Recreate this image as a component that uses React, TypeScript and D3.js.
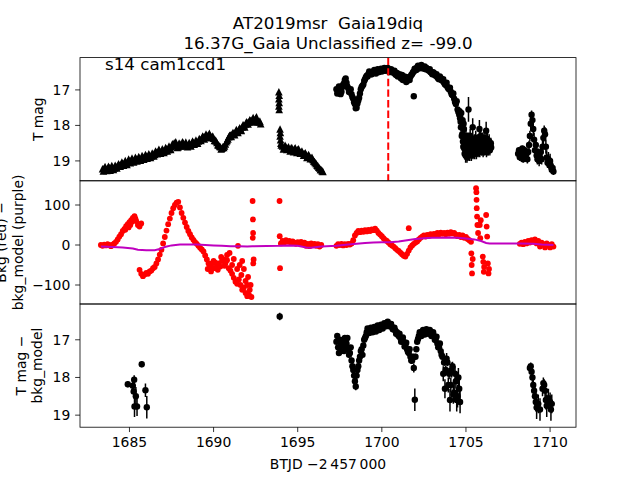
import React from 'react';
import * as d3 from 'd3';

// ---------- text ----------
const TITLE_1 = 'AT2019msr  Gaia19diq';
const TITLE_2 = '16.37G_Gaia Unclassified z= -99.0';
const CAMERA_LABEL = 's14 cam1ccd1';
const X_LABEL = 'BTJD \u22122\u2009457\u2009000';
const X_TICKS = [1685, 1690, 1695, 1700, 1705, 1710];
const MAG_TICKS = [17, 18, 19];
const BKG_TICKS = [100, 0, -100];
const PEAK_TIME = 1700.38;
const CADENCE = 0.1;
const BRIGHT_ERR = 0.03;

// ---------- panel 1: T mag ----------
// triangles (regular cadence segments)
const TRI_A_START = 1683.4;
const triA = [19.22, 19.2, 19.23, 19.21, 19.19, 19.22, 19.18, 19.2, 19.16, 19.14,
  19.12, 19.09, 19.07, 19.05, 19.06, 19.02, 19.0, 18.98, 18.97, 18.99,
  18.94, 18.96, 18.92, 18.94, 18.89, 18.91, 18.86, 18.88, 18.84, 18.86,
  18.8, 18.82, 18.76, 18.74, 18.72, 18.74, 18.7, 18.72, 18.66, 18.68,
  18.64, 18.6, 18.55, 18.5, 18.56, 18.6, 18.52, 18.54, 18.5, 18.53,
  18.56, 18.54, 18.55, 18.5, 18.48, 18.5, 18.46, 18.44, 18.4, 18.36,
  18.33, 18.3, 18.28, 18.27, 18.29, 18.32, 18.36, 18.41, 18.48, 18.55,
  18.6, 18.64, 18.62, 18.52, 18.42, 18.32, 18.27, 18.24, 18.22, 18.18,
  18.16, 18.12, 18.1, 18.04, 18.0, 17.96, 17.92, 17.9, 17.86, 17.83,
  17.84, 17.8, 17.86, 17.9, 17.95];
const TRI_A2_START = 1683.45;
const triA2 = [19.28, 19.16, 19.27, 19.15, 19.26, 19.13, 19.24, 19.12, 19.2, 19.08,
  19.15, 19.03, 19.12, 18.99, 19.1, 18.95, 19.05, 18.92, 19.03, 18.9,
  19.0, 18.88, 18.98, 18.85, 18.95, 18.82, 18.92, 18.8, 18.9, 18.78,
  18.86, 18.72, 18.8, 18.67, 18.78, 18.66, 18.76, 18.62, 18.72, 18.58,
  18.68, 18.52, 18.5, 18.46, 18.62, 18.5, 18.58, 18.46, 18.58, 18.47,
  18.6, 18.48, 18.58, 18.44, 18.53, 18.41, 18.5, 18.37, 18.42, 18.3,
  18.38, 18.24, 18.34, 18.22, 18.34, 18.3, 18.42, 18.44, 18.54, 18.58,
  18.66, 18.6, 18.58, 18.46, 18.38, 18.28, 18.31, 18.2, 18.26, 18.12,
  18.2, 18.07, 18.14, 17.98, 18.04, 17.9, 17.96, 17.84, 17.9, 17.78,
  17.88, 17.76, 17.9, 17.88];
const triCluster = [[1693.88, 17.05], [1693.9, 17.15], [1693.88, 17.25], [1693.9, 17.35],
  [1693.88, 17.45], [1693.9, 17.55], [1693.95, 18.1], [1693.97, 18.2], [1693.95, 18.3],
  [1693.98, 18.4], [1694.0, 18.5], [1694.02, 18.55]];
const TRI_B_START = 1694.1;
const triB = [18.58, 18.62, 18.6, 18.65, 18.67, 18.64, 18.69, 18.66, 18.7, 18.68,
  18.72, 18.74, 18.78, 18.8, 18.83, 18.86, 18.88, 18.92, 18.96, 19.02,
  19.08, 19.14, 19.2, 19.25, 19.3];
const TRI_B2_START = 1694.15;
const triB2 = [18.66, 18.56, 18.68, 18.6, 18.72, 18.62, 18.74, 18.63, 18.76, 18.66,
  18.78, 18.72, 18.84, 18.77, 18.9, 18.82, 18.94, 18.9, 19.0, 19.05,
  19.12, 19.18, 19.24, 19.28];

// circles with error bars
const CIRC_A_START = 1697.3;
const circA = [16.98, 17.08, 16.92, 17.05, 16.85, 16.72, 16.8, 16.95, 17.02, 17.12,
  17.25, 17.4, 17.5, 17.3, 17.1, 16.92, 16.85, 16.7, 16.6, 16.55,
  16.5, 16.56, 16.48, 16.52, 16.46, 16.5, 16.44, 16.48, 16.42, 16.46,
  16.4, 16.44, 16.48, 16.45, 16.52, 16.56, 16.52, 16.6, 16.65, 16.58,
  16.7, 16.66, 16.74, 16.68, 16.62, 16.55, 16.48, 16.42, 16.36, 16.4,
  16.33, 16.38, 16.36, 16.42, 16.4, 16.46, 16.5, 16.56, 16.52, 16.6,
  16.64, 16.7, 16.66, 16.74, 16.8, 16.86, 16.92, 16.98, 17.05, 17.15,
  17.25, 17.4, 17.55, 17.7];
const CIRC_A2_START = 1697.35;
const circA2 = [17.1, 16.9, 17.12, 16.92, 16.82, 16.68, 16.9,
  17.06, 16.98, 17.2, 17.35, 17.52, 17.38, 17.22, 16.98, 16.88, 16.75,
  16.64, 16.62, 16.48, 16.56, 16.5, 16.44, 16.54, 16.42, 16.48, 16.4,
  16.46, 16.38, 16.44, 16.38, 16.5, 16.42, 16.5, 16.46, 16.58, 16.62,
  16.56, 16.68, 16.72, 16.62, 16.78, 16.64, 16.72, 16.58, 16.5, 16.4,
  16.44, 16.32, 16.36, 16.3, 16.4, 16.34, 16.38, 16.44, 16.42, 16.52,
  16.5, 16.58, 16.56, 16.68, 16.62, 16.72, 16.7, 16.84, 16.8, 16.96,
  16.94, 17.12, 17.1, 17.34, 17.32, 17.62];
const circExtra = [[1701.9, 17.18, 0.05]];
const circFaint = [[1704.65, 17.8, 0.1], [1704.7, 18.05, 0.12], [1704.72, 17.65, 0.1], [1704.78, 18.25, 0.15],
  [1704.82, 18.45, 0.15], [1704.86, 17.95, 0.15], [1704.9, 18.65, 0.2], [1704.94, 18.35, 0.15],
  [1704.98, 18.85, 0.2], [1705.02, 18.55, 0.2], [1705.06, 18.9, 0.15], [1705.1, 18.4, 0.2],
  [1705.15, 17.55, 0.35], [1705.2, 18.6, 0.2], [1705.25, 18.3, 0.2], [1705.3, 18.7, 0.2],
  [1705.35, 18.5, 0.2], [1705.4, 18.05, 0.25], [1705.45, 18.6, 0.2], [1705.5, 18.45, 0.2],
  [1705.55, 18.65, 0.2], [1705.6, 18.5, 0.2], [1705.65, 18.7, 0.15], [1705.7, 18.55, 0.2],
  [1705.75, 18.65, 0.2], [1705.8, 18.1, 0.25], [1705.85, 18.6, 0.2], [1705.9, 18.45, 0.2],
  [1705.95, 18.65, 0.2], [1706.0, 18.55, 0.2], [1706.05, 18.7, 0.15], [1706.1, 18.5, 0.2],
  [1706.15, 18.6, 0.2], [1706.2, 18.15, 0.25], [1706.25, 18.55, 0.2], [1706.3, 18.65, 0.2],
  [1706.35, 18.5, 0.2], [1706.4, 18.6, 0.2], [1706.45, 18.55, 0.15], [1706.5, 18.62, 0.15],
  [1704.62, 17.6, 0.08], [1704.68, 17.9, 0.1], [1704.75, 18.3, 0.12], [1704.8, 17.85, 0.12],
  [1704.84, 18.6, 0.15], [1704.88, 18.1, 0.15], [1704.92, 18.8, 0.15], [1704.96, 18.5, 0.15],
  [1705.0, 18.3, 0.2], [1705.04, 18.75, 0.2], [1705.08, 18.55, 0.2], [1705.12, 18.85, 0.15],
  [1705.18, 18.4, 0.2], [1705.22, 18.8, 0.2], [1705.28, 18.55, 0.2], [1705.32, 18.85, 0.15],
  [1705.38, 18.4, 0.2], [1705.42, 18.75, 0.2], [1705.48, 18.6, 0.2], [1705.52, 18.8, 0.15],
  [1705.58, 18.35, 0.2], [1705.62, 18.8, 0.15], [1705.68, 18.45, 0.2], [1705.72, 18.75, 0.15],
  [1705.78, 18.5, 0.2], [1705.82, 18.75, 0.15], [1705.88, 18.3, 0.2], [1705.92, 18.7, 0.15],
  [1705.98, 18.4, 0.2], [1706.02, 18.75, 0.15], [1706.08, 18.35, 0.2], [1706.12, 18.7, 0.15],
  [1706.18, 18.45, 0.2], [1706.22, 18.75, 0.15], [1706.28, 18.4, 0.2], [1706.32, 18.7, 0.15],
  [1706.38, 18.45, 0.2], [1706.42, 18.7, 0.15], [1706.48, 18.5, 0.15]];
const circC = [[1708.1, 18.8, 0.08], [1708.15, 18.7, 0.08], [1708.2, 18.9, 0.1], [1708.25, 18.75, 0.08],
  [1708.3, 18.85, 0.1], [1708.35, 18.65, 0.08], [1708.4, 18.95, 0.1], [1708.45, 18.8, 0.1],
  [1708.5, 18.7, 0.1], [1708.55, 18.9, 0.1], [1708.6, 18.8, 0.1], [1708.65, 18.95, 0.12],
  [1708.7, 18.75, 0.1], [1708.75, 18.55, 0.12], [1708.8, 18.3, 0.15], [1708.85, 17.95, 0.2],
  [1708.9, 17.7, 0.12], [1708.95, 17.85, 0.15], [1709.0, 18.1, 0.2], [1709.05, 18.4, 0.2],
  [1709.1, 18.7, 0.2], [1709.15, 18.55, 0.2], [1709.2, 18.85, 0.15], [1709.25, 18.95, 0.15],
  [1709.3, 18.8, 0.15], [1709.35, 19.0, 0.15], [1709.4, 18.9, 0.15], [1709.45, 18.75, 0.2],
  [1709.5, 18.95, 0.15], [1709.55, 18.6, 0.2], [1709.6, 18.35, 0.2], [1709.65, 18.15, 0.15],
  [1709.7, 18.25, 0.2], [1709.75, 18.6, 0.2], [1709.8, 18.9, 0.2], [1709.85, 19.05, 0.15],
  [1709.9, 18.95, 0.2], [1709.95, 19.1, 0.15], [1710.0, 19.0, 0.2], [1710.05, 19.15, 0.15],
  [1710.1, 19.25, 0.12], [1710.15, 19.2, 0.15], [1710.2, 19.3, 0.1]];

// ---------- panel 2: background (red) and model (purple) ----------
const BKG_A_START = 1683.3;
const bkgA = [0, -2, 1, -1, 2, 0, -3, 1, 4, 8, 14, 21, 27, 35, 40, 47, 52, 57, 62, 68, 72, 60, 50, 46, 54];
const BKG_B_START = 1685.6;
const bkgB = [-62, -72, -78, -74, -70, -72, -66, -64, -58, -55,
  -46, -36, -24, -12, 4, 20, 36, 52, 66, 80,
  92, 100, 106, 108, 94, 80, 68, 56, 45, 35,
  27, 19, 13, 7, 3, -2, -7, -11, -16, -26,
  -36, -46, -54, -46, -40, -44, -52, -46, -54, -40,
  -36, -46, -38, -58, -64, -72, -82, -92, -97, -86,
  -100, -112, -106, -120, -128, -124, -100];
const BKG_C_START = 1694.0;
const bkgC = [4, 10, 6, 12, 8, 10, 5, 9, 6, 3, 7, 4, 8, 2, 6, -2, 3, -3, 4, 0, 3, -2, 2, -4, 0];
const BKG_D_START = 1697.3;
const bkgD = [-2, 2, 0, 3, -1, 2, 0, 3, 1, 4,
  12, 24, 30, 35, 32, 36, 33, 37, 34, 38,
  35, 39, 37, 41, 36, 30, 26, 22, 17, 13,
  10, 6, 2, -1, -4, -8, -12, -15, -19, -23,
  -27, -29, -22, -14, -6, -1, 3, 6, 9, 14,
  18, 21, 24, 21, 25, 23, 27, 25, 28, 26,
  30, 27, 31, 28, 30, 27, 31, 28, 32, 29,
  30, 26, 22, 25, 20, 24, 18, 20, 15, 12];
const BKG_E_START = 1708.2;
const bkgE = [3, 6, 2, 8, 4, 10, 6, 12, 8, 14, 4, 10, -4, 6, 2, -6, 4, 0, -6, 2, -4];
const bkgScatter = [[1684.75, 38], [1684.95, 44], [1685.05, 50], [1685.15, 58], [1685.25, 62], [1685.35, 66],
  [1689.65, -60], [1689.85, -66], [1690.05, -58], [1690.25, -62], [1690.45, -30], [1690.65, -52],
  [1690.8, -25], [1690.95, -20], [1691.1, -50], [1691.2, -35], [1691.4, -60], [1691.45, -2],
  [1691.55, -50], [1691.65, -75], [1691.7, -40], [1691.8, -60], [1691.9, -90], [1692.0, -100],
  [1692.05, -80], [1692.15, -112], [1692.25, -130], [1692.32, 110], [1692.34, 64], [1692.35, 30],
  [1692.33, 18], [1692.38, -36], [1692.36, -46], [1693.92, 110], [1693.93, 22], [1693.95, -58],
  [1701.6, 42],
  [1705.3, 8], [1705.32, -21], [1705.34, -50], [1705.36, -71], [1705.4, -35],
  [1705.6, 142], [1705.62, 132], [1705.63, 113], [1705.64, 92], [1705.66, 71], [1705.68, 50], [1705.72, 30],
  [1705.82, 50], [1705.85, 17], [1705.88, 62],
  [1706.0, -29], [1706.03, -42], [1706.06, -67], [1706.08, -55],
  [1706.2, 75], [1706.23, 46], [1706.26, 21], [1706.3, -46], [1706.34, -71], [1706.37, -60]];
const bkgModel = [[1683.3, -4], [1684.0, -5], [1684.6, -6], [1685.2, -9], [1685.5, -12], [1686.0, -13],
  [1686.5, -13], [1686.8, -10], [1687.1, -5], [1687.5, -1], [1688.0, 1], [1688.5, 1], [1689.0, 1],
  [1689.5, 0], [1690.0, -1], [1690.5, -2], [1691.0, -3], [1691.5, -3], [1692.0, -4], [1692.3, -3],
  [1693.9, -2], [1694.5, -1], [1695.0, -2], [1695.5, -6], [1695.8, -7], [1696.4, -4], [1697.3, -2],
  [1698.0, 1], [1698.5, 3], [1699.0, 5], [1699.5, 6], [1700.0, 7], [1700.5, 7], [1701.0, 9],
  [1701.5, 12], [1702.0, 15], [1702.5, 17], [1703.0, 18], [1703.5, 18], [1704.0, 19], [1704.5, 18],
  [1705.0, 16], [1705.5, 14], [1705.9, 10], [1706.2, 5], [1706.4, 4], [1708.2, 4], [1709.0, 3],
  [1709.5, 1], [1710.2, 0]];

// ---------- panel 3: T mag - bkg_model ----------
const corrEarly = [[1684.9, 18.18, 0.08], [1685.2, 18.22, 0.12], [1685.25, 18.37, 0.15], [1685.28, 18.06, 0.12],
  [1685.3, 18.77, 0.28], [1685.45, 18.77, 0.25], [1685.38, 18.5, 0.25], [1685.73, 17.65, 0.08],
  [1685.95, 18.34, 0.18], [1686.03, 18.79, 0.3], [1693.93, 16.38, 0.1]];
const corrMain = [[1697.3, 17.05, 0.06], [1697.4, 17.2, 0.06], [1697.5, 17.0, 0.05], [1697.6, 17.3, 0.06],
  [1697.7, 17.15, 0.06], [1697.8, 16.95, 0.05], [1697.9, 17.1, 0.06], [1698.0, 17.25, 0.06],
  [1698.1, 17.35, 0.07], [1698.2, 17.55, 0.08], [1698.3, 17.8, 0.1], [1698.4, 18.1, 0.15],
  [1698.45, 18.24, 0.1], [1698.5, 17.95, 0.12], [1698.6, 17.7, 0.1], [1698.7, 17.45, 0.07],
  [1698.8, 17.25, 0.06], [1698.9, 17.15, 0.06], [1699.0, 16.95, 0.05], [1699.1, 16.8, 0.04],
  [1699.2, 16.78, 0.04], [1699.3, 16.72, 0.04], [1699.4, 16.76, 0.04], [1699.5, 16.7, 0.04],
  [1699.6, 16.73, 0.04], [1699.7, 16.68, 0.04], [1699.8, 16.7, 0.04], [1699.9, 16.64, 0.04],
  [1700.0, 16.67, 0.04], [1700.1, 16.62, 0.04], [1700.2, 16.6, 0.04], [1700.3, 16.56, 0.04],
  [1700.4, 16.58, 0.04], [1700.5, 16.62, 0.04], [1700.6, 16.66, 0.04], [1700.7, 16.72, 0.04],
  [1700.8, 16.75, 0.04], [1700.9, 16.8, 0.04], [1701.0, 16.9, 0.05], [1701.1, 16.95, 0.05],
  [1701.2, 17.0, 0.05], [1701.3, 17.06, 0.05], [1701.4, 17.15, 0.06], [1701.5, 17.25, 0.06],
  [1701.6, 17.35, 0.07], [1701.7, 17.45, 0.08], [1701.8, 17.55, 0.08], [1701.9, 17.75, 0.12],
  [1701.96, 18.59, 0.3], [1702.0, 17.45, 0.08], [1702.1, 17.05, 0.06], [1702.2, 16.9, 0.05],
  [1702.3, 16.84, 0.04], [1702.4, 16.8, 0.04], [1702.5, 16.78, 0.04], [1702.6, 16.8, 0.04],
  [1702.7, 16.76, 0.04], [1702.8, 16.8, 0.04], [1702.9, 16.82, 0.04], [1703.0, 16.85, 0.04],
  [1703.1, 16.9, 0.05], [1703.2, 17.0, 0.05], [1703.3, 17.1, 0.06], [1703.4, 17.2, 0.06],
  [1703.5, 17.3, 0.07], [1703.6, 17.45, 0.08], [1703.7, 17.6, 0.1], [1703.8, 17.8, 0.12],
  [1703.9, 17.6, 0.1], [1704.0, 17.9, 0.15], [1704.1, 18.2, 0.2], [1704.2, 17.7, 0.12],
  [1704.3, 18.4, 0.25], [1704.4, 18.1, 0.2], [1704.5, 18.5, 0.3], [1704.6, 18.3, 0.25],
  [1703.65, 17.9, 0.2], [1703.75, 18.3, 0.25], [1703.85, 17.5, 0.15], [1703.95, 18.2, 0.2],
  [1704.05, 18.6, 0.3], [1704.15, 17.8, 0.2], [1704.25, 18.45, 0.25], [1704.35, 17.9, 0.2],
  [1704.45, 18.6, 0.3], [1704.55, 18.0, 0.25], [1704.65, 18.65, 0.3]];
const corrMain2 = [[1697.35, 16.9, 0.05], [1697.45, 17.35, 0.06], [1697.55, 17.15, 0.06], [1697.65, 17.05, 0.05],
  [1697.75, 17.3, 0.06], [1697.85, 17.2, 0.06], [1697.95, 16.95, 0.05], [1698.05, 17.4, 0.07],
  [1698.15, 17.2, 0.06], [1698.25, 17.7, 0.09], [1698.35, 17.95, 0.12], [1698.55, 17.8, 0.1],
  [1698.65, 17.55, 0.08], [1698.75, 17.3, 0.06], [1698.85, 17.4, 0.07], [1698.95, 17.0, 0.05],
  [1699.05, 16.9, 0.05], [1699.15, 16.7, 0.04], [1699.25, 16.82, 0.04], [1699.35, 16.68, 0.04],
  [1699.45, 16.8, 0.04], [1699.55, 16.66, 0.04], [1699.65, 16.78, 0.04], [1699.75, 16.62, 0.04],
  [1699.85, 16.74, 0.04], [1699.95, 16.6, 0.04], [1700.05, 16.7, 0.04], [1700.15, 16.56, 0.04],
  [1700.25, 16.64, 0.04], [1700.35, 16.52, 0.04], [1700.45, 16.64, 0.04], [1700.55, 16.58, 0.04],
  [1700.65, 16.72, 0.04], [1700.75, 16.68, 0.04], [1700.85, 16.84, 0.04], [1700.95, 16.86, 0.05],
  [1701.05, 16.84, 0.05], [1701.15, 17.05, 0.05], [1701.25, 16.94, 0.05], [1701.35, 17.18, 0.06],
  [1701.45, 17.08, 0.06], [1701.55, 17.32, 0.07], [1701.65, 17.25, 0.07], [1701.75, 17.55, 0.09],
  [1701.85, 17.45, 0.08], [1702.05, 17.25, 0.07], [1702.15, 16.98, 0.05], [1702.25, 16.8, 0.04],
  [1702.35, 16.9, 0.04], [1702.45, 16.74, 0.04], [1702.55, 16.86, 0.04], [1702.65, 16.72, 0.04],
  [1702.75, 16.84, 0.04], [1702.85, 16.74, 0.04], [1702.95, 16.9, 0.05], [1703.05, 16.8, 0.05],
  [1703.15, 17.0, 0.05], [1703.25, 16.92, 0.05], [1703.35, 17.2, 0.06], [1703.45, 17.1, 0.06],
  [1703.55, 17.4, 0.08]];
const corrLate = [[1708.8, 17.75, 0.1], [1708.85, 17.7, 0.1], [1708.9, 17.85, 0.12], [1708.95, 18.0, 0.15],
  [1709.0, 18.2, 0.2], [1709.05, 18.35, 0.2], [1709.1, 18.5, 0.25], [1709.15, 18.65, 0.25],
  [1709.2, 18.8, 0.3], [1709.3, 18.7, 0.25], [1709.4, 18.85, 0.3], [1709.55, 18.3, 0.2],
  [1709.6, 18.15, 0.15], [1709.65, 18.2, 0.15], [1709.7, 18.35, 0.2], [1709.75, 18.6, 0.25],
  [1709.8, 18.75, 0.3], [1709.9, 18.55, 0.25], [1710.0, 18.65, 0.25], [1710.05, 18.85, 0.3],
  [1710.1, 18.7, 0.25]];

// ---------- layout ----------
const W = 640, H = 480;
const L = 80, R = 576, TOP = 57.6, PH = 123.2;
const FONT = 'DejaVu Sans, sans-serif';
const FS = 13.9;

const expand = (start: number, vals: number[]) => vals.map((v, i) => [start + i * CADENCE, v]);

export default function App() {
  const x = d3.scaleLinear().domain([1682.06, 1711.54]).range([L, R]);
  const p1 = [TOP, TOP + PH], p2 = [TOP + PH, TOP + 2 * PH], p3 = [TOP + 2 * PH, TOP + 3 * PH];
  const y1 = d3.scaleLinear().domain([16.09, 19.56]).range(p1);
  const y2 = d3.scaleLinear().domain([160.5, -147.5]).range(p2);
  const y3 = d3.scaleLinear().domain([16.05, 19.32]).range(p3);

  const tris = [...expand(TRI_A_START, triA), ...expand(TRI_A2_START, triA2), ...triCluster,
    ...expand(TRI_B_START, triB), ...expand(TRI_B2_START, triB2)];
  const circs = [...expand(CIRC_A_START, circA).map(([t, m]) => [t, m, BRIGHT_ERR]),
    ...expand(CIRC_A2_START, circA2).map(([t, m]) => [t, m, BRIGHT_ERR]),
    ...circExtra, ...circFaint, ...circC];
  const reds = [...expand(BKG_A_START, bkgA), ...expand(BKG_B_START, bkgB), ...expand(BKG_C_START, bkgC),
    ...expand(BKG_D_START, bkgD), ...expand(BKG_E_START, bkgE), ...bkgScatter];
  const corr = [...corrEarly, ...corrMain, ...corrMain2, ...corrLate];

  const line = d3.line<number[]>().x(d => x(d[0])).y(d => y2(d[1]));
  const triPath = 'M0,-3.8L3.8,3.8L-3.8,3.8Z';

  const errPts = (data: number[][], y: d3.ScaleLinear<number, number>, key: string) => (
    <g>
      {data.map((d, i) => (
        <line key={key + 'e' + i} x1={x(d[0])} x2={x(d[0])} y1={y(d[1] - d[2])} y2={y(d[1] + d[2])}
          stroke="#000" strokeWidth={1.5} />
      ))}
      {data.map((d, i) => (
        <circle key={key + 'c' + i} cx={x(d[0])} cy={y(d[1])} r={3.2} fill="#000" />
      ))}
    </g>
  );

  const yAxis = (ticks: number[], y: d3.ScaleLinear<number, number>, fmt: (v: number) => string) => (
    <g>
      {ticks.map(t => (
        <g key={t}>
          <line x1={L - 4.86} x2={L} y1={y(t)} y2={y(t)} stroke="#000" strokeWidth={0.8} />
          <text x={L - 9.7} y={y(t)} dy="0.36em" textAnchor="end" fontSize={FS} fontFamily={FONT}>{fmt(t)}</text>
        </g>
      ))}
    </g>
  );
  const fmtBkg = (v: number) => (v < 0 ? '\u2212' + Math.abs(v) : String(v));

  return (
    <svg width={W} height={H} style={{ position: 'absolute', left: 0, top: 0, background: '#fff' }}
      xmlns="http://www.w3.org/2000/svg">
      <defs>
        <clipPath id="c1"><rect x={L} y={p1[0]} width={R - L} height={PH} /></clipPath>
        <clipPath id="c2"><rect x={L} y={p2[0]} width={R - L} height={PH} /></clipPath>
        <clipPath id="c3"><rect x={L} y={p3[0]} width={R - L} height={PH} /></clipPath>
      </defs>
      <rect x={0} y={0} width={W} height={H} fill="#fff" />

      {/* titles */}
      <text x={(L + R) / 2} y={28.5} textAnchor="middle" fontSize={16.7} fontFamily={FONT}
        style={{ whiteSpace: 'pre' }}>{TITLE_1}</text>
      <text x={(L + R) / 2} y={49.3} textAnchor="middle" fontSize={16.7} fontFamily={FONT}>{TITLE_2}</text>

      {/* panel 1 */}
      <g clipPath="url(#c1)">
        {tris.map((d, i) => (
          <path key={'t' + i} d={triPath} transform={`translate(${x(d[0])},${y1(d[1])})`} fill="#000" />
        ))}
        {errPts(circs, y1, 'p1')}
        <line x1={x(PEAK_TIME)} x2={x(PEAK_TIME)} y1={p1[0]} y2={p1[1]} stroke="#ff0000" strokeWidth={2}
          strokeDasharray="7.4,3.2" />
      </g>
      <text x={105} y={70} fontSize={16.7} fontFamily={FONT}>{CAMERA_LABEL}</text>

      {/* panel 2 */}
      <g clipPath="url(#c2)">
        {reds.map((d, i) => (
          <circle key={'r' + i} cx={x(d[0])} cy={y2(d[1])} r={2.9} fill="#ff0000" />
        ))}
        <path d={line(bkgModel) || ''} fill="none" stroke="#bf00bf" strokeWidth={2} />
      </g>

      {/* panel 3 */}
      <g clipPath="url(#c3)">
        {errPts(corr, y3, 'p3')}
      </g>

      {/* frames */}
      {[p1, p2, p3].map((p, i) => (
        <rect key={'f' + i} x={L} y={p[0]} width={R - L} height={PH} fill="none" stroke="#000" strokeWidth={0.8} />
      ))}

      {/* y axes */}
      {yAxis(MAG_TICKS, y1, v => String(v))}
      {yAxis(BKG_TICKS, y2, fmtBkg)}
      {yAxis(MAG_TICKS, y3, v => String(v))}

      {/* x axis */}
      {X_TICKS.map(t => (
        <g key={'x' + t}>
          <line x1={x(t)} x2={x(t)} y1={p3[1]} y2={p3[1] + 4.86} stroke="#000" strokeWidth={0.8} />
          <text x={x(t)} y={446.5} textAnchor="middle" fontSize={FS} fontFamily={FONT}>{t}</text>
        </g>
      ))}
      <text x={(L + R) / 2} y={469} textAnchor="middle" fontSize={FS} fontFamily={FONT}>{X_LABEL}</text>

      {/* y labels */}
      <text transform={`translate(42.7,${(p1[0] + p1[1]) / 2}) rotate(-90)`} textAnchor="middle" fontSize={FS}
        fontFamily={FONT}>T mag</text>
      <text transform={`translate(5.8,${(p2[0] + p2[1]) / 2}) rotate(-90)`} textAnchor="middle" fontSize={FS}
        fontFamily={FONT}>Bkg (red) {'\u2212'}</text>
      <text transform={`translate(22.5,${(p2[0] + p2[1]) / 2}) rotate(-90)`} textAnchor="middle" fontSize={FS}
        fontFamily={FONT}>bkg_model (purple)</text>
      <text transform={`translate(25.5,${(p3[0] + p3[1]) / 2}) rotate(-90)`} textAnchor="middle" fontSize={FS}
        fontFamily={FONT}>T mag {'\u2212'}</text>
      <text transform={`translate(42,${(p3[0] + p3[1]) / 2}) rotate(-90)`} textAnchor="middle" fontSize={FS}
        fontFamily={FONT}>bkg_model</text>
    </svg>
  );
}
